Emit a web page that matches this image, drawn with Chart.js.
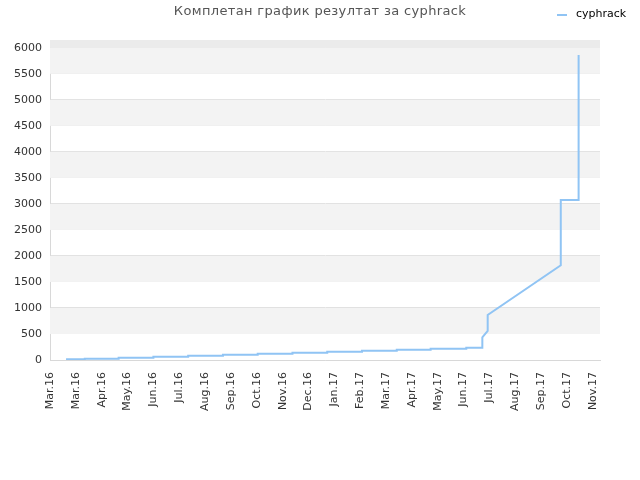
<!DOCTYPE html>
<html>
<head>
<meta charset="utf-8">
<script src="https://cdn.jsdelivr.net/npm/chart.js@4/dist/chart.umd.min.js"></script>
<style>
  html, body { margin: 0; padding: 0; background: #fff; }
  #wrap { width: 640px; height: 480px; }
</style>
</head>
<body>
<div id="wrap"><canvas id="myChart" width="640" height="480"></canvas></div>
<script>
const title = "Комплетан график резултат за cyphrack";
const seriesName = "cyphrack";
// x ticks are ~29 days apart, labels as shown on the picture
const tickLabels = ["Mar.16", "Mar.16", "Apr.16", "May.16", "Jun.16", "Jul.16", "Aug.16", "Sep.16",
  "Oct.16", "Nov.16", "Dec.16", "Jan.17", "Feb.17", "Mar.17", "Apr.17", "May.17", "Jun.17",
  "Jul.17", "Aug.17", "Sep.17", "Oct.17", "Nov.17"];
const yTicks = [0, 500, 1000, 1500, 2000, 2500, 3000, 3500, 4000, 4500, 5000, 5500, 6000];
const tickStep = 29;
const xMax = 617;
// day offsets and scores
const days = [18, 39, 39, 77, 77, 116, 116, 155, 155, 194, 194, 233, 233, 272, 272, 311, 311,
  350, 350, 389, 389, 427, 427, 467, 467, 485, 485, 491, 491, 573, 573, 593, 593, 593];
const scores = [13, 13, 25, 25, 45, 45, 64, 64, 83, 83, 102, 102, 122, 122, 141, 141, 160,
  160, 179, 179, 198, 198, 217, 217, 237, 237, 436, 558, 865, 1821, 3077, 3077, 3160, 5860];

const points = days.map((d, i) => ({ x: d, y: scores[i] }));

const bands = {
  id: 'bands',
  beforeDatasetsDraw(chart) {
    const { ctx, chartArea: a, scales: { y } } = chart;
    ctx.save();
    ctx.fillStyle = '#ebebeb';
    ctx.fillRect(a.left, a.top, a.right - a.left, y.getPixelForValue(6000) - a.top);
    ctx.fillStyle = '#f3f3f3';
    for (let i = 1; i < yTicks.length - 1; i += 2) {
      const t = y.getPixelForValue(yTicks[i + 1]), b = y.getPixelForValue(yTicks[i]);
      ctx.fillRect(a.left, t, a.right - a.left, b - t);
    }
    ctx.restore();
  }
};

const header = {
  id: 'header',
  afterDraw(chart) {
    const ctx = chart.ctx;
    ctx.save();
    ctx.font = '13px "DejaVu Sans", sans-serif';
    ctx.letterSpacing = '0.35px';
    ctx.fillStyle = '#555';
    ctx.textAlign = 'center';
    ctx.textBaseline = 'middle';
    ctx.fillText(title, 320, 12);
    ctx.letterSpacing = '0px';
    ctx.strokeStyle = '#90c4f4';
    ctx.lineWidth = 2;
    ctx.beginPath();
    ctx.moveTo(557, 15);
    ctx.lineTo(567, 15);
    ctx.stroke();
    ctx.font = '11px "DejaVu Sans", sans-serif';
    ctx.fillStyle = '#000';
    ctx.textAlign = 'left';
    ctx.fillText(chart.data.datasets[0].label, 576, 14);
    ctx.restore();
  }
};

new Chart(document.getElementById('myChart'), {
  type: 'line',
  data: {
    datasets: [{
      label: seriesName,
      data: points,
      borderColor: '#90c4f4',
      borderWidth: 2,
      pointRadius: 0,
      fill: false,
      tension: 0
    }]
  },
  options: {
    responsive: false,
    animation: false,
    layout: { padding: { top: 40, right: 40, left: 0, bottom: 0 } },
    plugins: { legend: { display: false }, title: { display: false }, tooltip: { enabled: false } },
    scales: {
      x: {
        type: 'linear',
        min: 0,
        max: xMax,
        afterFit(s) { s.height = 120; },
        afterBuildTicks(s) {
          s.ticks = tickLabels.map((_, i) => ({ value: i * tickStep }));
        },
        ticks: {
          autoSkip: false,
          maxRotation: 90,
          minRotation: 90,
          color: '#333',
          font: { family: 'DejaVu Sans', size: 11 },
          padding: 4,
          callback: (v, i) => tickLabels[i]
        },
        grid: { display: false },
        border: { color: '#d8d8d8' }
      },
      y: {
        min: 0,
        max: 6150,
        afterFit(s) { s.width = 50; },
        afterBuildTicks(s) {
          s.ticks = yTicks.map(v => ({ value: v }));
        },
        ticks: {
          color: '#333',
          font: { family: 'DejaVu Sans', size: 11 },
          padding: 8,
          callback: v => String(v)
        },
        grid: { color: '#e0e0e0', drawTicks: false },
        border: { color: '#d8d8d8' }
      }
    }
  },
  plugins: [bands, header]
});
</script>
</body>
</html>
